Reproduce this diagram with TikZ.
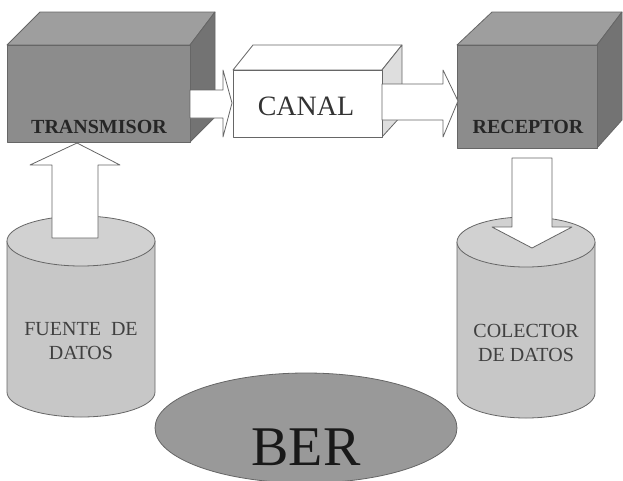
\documentclass[tikz,border=0pt]{standalone}
\usepackage{fontspec}
\newfontfamily\tnr{Liberation Serif}
\begin{document}
\begin{tikzpicture}[x=1pt,y=1pt,line join=round,
  edge/.style={draw=black!60,line width=0.8pt},
  dfront/.style={edge,fill=black!45},
  dtop/.style={edge,fill=black!38},
  dside/.style={edge,fill=black!55},
  wface/.style={edge,fill=white},
  wside/.style={edge,fill=black!13},
  barrow/.style={edge,fill=white},
  cylbody/.style={fill=black!22},
  cyltop/.style={edge,fill=black!18},
  boxlbl/.style={font=\tnr\bfseries\fontsize{20}{24}\selectfont,text=black!85,anchor=base,inner sep=0pt},
  cyllbl/.style={font=\tnr\fontsize{20}{24}\selectfont,text=black!75,align=center,inner sep=0pt}]
\useasboundingbox (0,0) rectangle (623,-480);
% ---- TRANSMISOR cube
\path[dtop] (7,-45) -- (40,-12) -- (215,-12) -- (190,-45) -- cycle;
\path[dside] (190,-45) -- (215,-12) -- (215,-117) -- (190,-142) -- cycle;
\path[dfront] (7,-45) rectangle (190,-142);
\node[boxlbl] (tx) at (99,-133) {TRANSMISOR};
% ---- CANAL cube
\path[wface] (233,-70) -- (253,-45) -- (402,-45) -- (382,-70) -- cycle;
\path[wside] (382,-70) -- (402,-45) -- (402,-115) -- (382,-137) -- cycle;
\path[wface] (233,-70) rectangle (382,-137);
\node[font=\tnr\fontsize{28}{30}\selectfont,text=black!80,anchor=base,inner sep=0pt] (canal) at (306,-115) {CANAL};
% ---- RECEPTOR cube
\path[dtop] (457,-45) -- (492,-12) -- (622,-12) -- (597,-45) -- cycle;
\path[dside] (597,-45) -- (622,-12) -- (622,-120) -- (597,-148) -- cycle;
\path[dfront] (457,-45) rectangle (597,-148);
\node[boxlbl] (rx) at (528,-133) {RECEPTOR};
% ---- block arrows between boxes
\path[barrow] (190,-90) -- (223,-90) -- (223,-70) -- (232,-103) -- (223,-137) -- (223,-118) -- (190,-118) -- cycle;
\path[barrow] (382,-84) -- (443,-84) -- (443,-70) -- (458,-101) -- (443,-137) -- (443,-120) -- (382,-120) -- cycle;
% ---- left cylinder
\fill[cylbody] (7,-241) -- (7,-392) arc[start angle=180,end angle=360,x radius=74,y radius=25] -- (155,-241) -- cycle;
\draw[edge] (7,-241) -- (7,-392) arc[start angle=180,end angle=360,x radius=74,y radius=25] -- (155,-241);
\path[cyltop] (81,-241) ellipse[x radius=74,y radius=25];
\node[cyllbl] (src) at (81,-341.5) {FUENTE\ \ DE\\DATOS};
\path[barrow] (52,-238) -- (52,-165) -- (30,-165) -- (77,-143) -- (120,-165) -- (98,-165) -- (98,-238) -- cycle;
% ---- right cylinder
\fill[cylbody] (457,-242) -- (457,-393) arc[start angle=180,end angle=360,x radius=69,y radius=25] -- (595,-242) -- cycle;
\draw[edge] (457,-242) -- (457,-393) arc[start angle=180,end angle=360,x radius=69,y radius=25] -- (595,-242);
\path[cyltop] (526,-242) ellipse[x radius=69,y radius=25];
\node[cyllbl] (snk) at (526,-342.5) {COLECTOR\\DE DATOS};
\path[barrow] (512,-158) -- (552,-158) -- (552,-227) -- (572,-227) -- (532,-248) -- (492,-227) -- (512,-227) -- cycle;
% ---- BER
\path[edge,fill=black!40] (306,-428) ellipse[x radius=151,y radius=55];
\node[font=\tnr\fontsize{56}{60}\selectfont,text=black!90,anchor=base,inner sep=0pt] (ber) at (306,-465) {BER};
\end{tikzpicture}
\end{document}
